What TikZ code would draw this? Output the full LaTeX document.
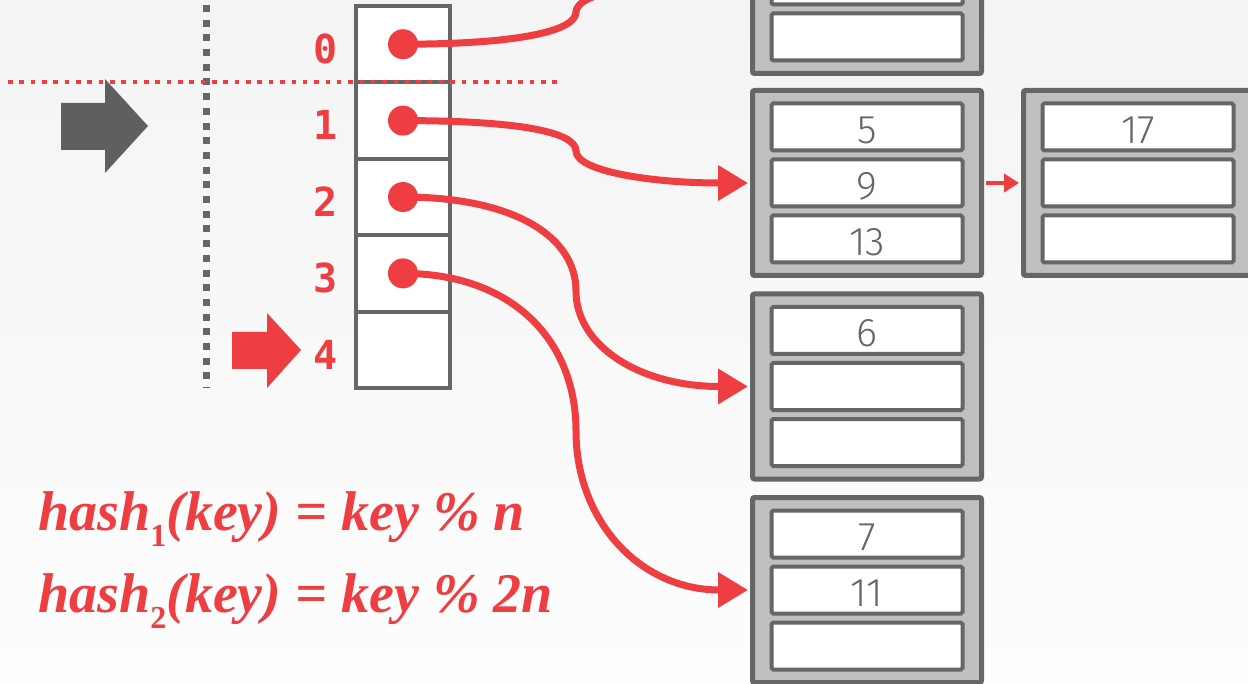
\documentclass[tikz,border=0pt]{standalone}
\usepackage{fontspec}
\usetikzlibrary{arrows.meta}
\newfontfamily\labfont{DejaVu Sans Mono}
\newfontfamily\slotfont{Fira Sans}[UprightFont=* Light]
\newfontfamily\formfont{Liberation Serif}
\definecolor{myred}{HTML}{EF3E42}
\definecolor{mygray}{HTML}{666666}
\definecolor{arrgray}{HTML}{5F5F5F}
\definecolor{bfill}{HTML}{BFBFBF}
\definecolor{bgtop}{HTML}{F4F4F4}
\definecolor{bgbot}{HTML}{FDFDFD}
\newcommand{\hsub}[1]{\raisebox{-8pt}{\upshape\fontsize{16}{16}\selectfont #1}}
\begin{document}
\begin{tikzpicture}[x=0.5pt,y=-0.5pt,
  bucket/.style={draw=mygray, fill=bfill, line width=2.5pt, minimum width=114.5pt, minimum height=92.5pt, rounded corners=1pt, inner sep=0pt},
  slot/.style={draw=mygray, fill=white, line width=2pt, minimum width=95.5pt, minimum height=23.5pt, inner sep=0pt, rounded corners=0.8pt},
  slottext/.style={text=mygray, font=\slotfont\fontsize{20}{20}\selectfont, yshift=-1.6pt},
  cell/.style={draw=mygray, fill=white, line width=2pt, minimum width=47pt, minimum height=38.2pt, inner sep=0pt},
  dotnode/.style={circle, fill=myred, minimum size=15pt, inner sep=0pt},
  idx/.style={text=myred, font=\labfont\bfseries\fontsize{20}{20}\selectfont, inner sep=0pt},
  link/.style={draw=myred, line width=3.5pt, shorten >=1pt, -{Triangle[length=15pt,width=17pt]}},
  smalllink/.style={draw=myred, line width=2.3pt, shorten <=1.2pt, shorten >=1pt, -{Triangle[length=7.5pt,width=9pt]}},
  formula/.style={text=myred, font=\formfont\bfseries\itshape\fontsize{28}{28}\selectfont, inner sep=0pt, anchor=base west}
]
\useasboundingbox (0,0) rectangle (1248,684);
\shade[top color=bgtop, bottom color=bgbot] (0,0) rectangle (1248,684);
\clip (0,0) rectangle (1248,684);

% buckets
\node[bucket] (bA) at (867,-19) {};
\node[bucket] (bB) at (867,183) {};
\node[bucket] (bC) at (867,386.5) {};
\node[bucket] (bD) at (867,590) {};
\node[bucket] (bE) at (1138,183) {};
\foreach \b in {A,B,C,D,E} {
  \node[slot] (s\b1) at ([yshift=28pt]b\b.center) {};
  \node[slot] (s\b2) at (b\b.center) {};
  \node[slot] (s\b3) at ([yshift=-28pt]b\b.center) {};
}
\node[slottext] (t5) at (sB1) {5};
\node[slottext] (t9) at (sB2) {9};
\node[slottext] (t13) at (sB3) {13};
\node[slottext] (t6) at (sC1) {6};
\node[slottext] (t7) at (sD1) {7};
\node[slottext] (t11) at (sD2) {11};
\node[slottext] (t17) at (sE1) {17};

% directory
\foreach \i in {0,...,4} {
  \node[cell] (c\i) at (403,{44.2+76.4*\i}) {};
  \node[idx] (l\i) at (326,{49+76.4*\i}) {\i};
}
\foreach \i in {0,...,3} {
  \node[dotnode] (d\i) at (c\i.center) {};
}

% guide lines
\coordinate (gv1) at (206,5);
\coordinate (gv2) at (206,388);
\draw[mygray, line width=3.5pt, dash pattern=on 3.5pt off 3.85pt] (gv1) -- (gv2);
\coordinate (rh1) at (8,82);
\coordinate (rh2) at (560,82);
\draw[myred, line width=2pt, dash pattern=on 2.3pt off 3.37pt] (rh1) -- (rh2);

% block arrows
\fill[arrgray] (61,103) -- (105,103) -- (105,79) -- (148,126) -- (105,173) -- (105,150) -- (61,150) -- cycle;
\fill[myred] (232,332) -- (267,332) -- (267,313) -- (301,350) -- (267,388) -- (267,369) -- (232,369) -- cycle;

% links
\coordinate (m0) at (576,12);
\coordinate (m1) at (576,151);
\coordinate (m2) at (576,291);
\coordinate (m3) at (576,431);
\draw[link] (d0.center) .. controls +(110,0) and +(0,20) .. (m0) .. controls +(0,-20) and +(-100,0) .. (bA.west);
\draw[link] (d1.center) .. controls +(110,0) and +(0,-20) .. (m1) .. controls +(0,20) and +(-100,0) .. (bB.west);
\draw[link] (d2.center) .. controls +(110,0) and +(0,-55) .. (m2) .. controls +(0,55) and +(-110,0) .. (bC.west);
\draw[link] (d3.center) .. controls +(110,0) and +(0,-90) .. (m3) .. controls +(0,90) and +(-110,0) .. (bD.west);
\draw[smalllink] (bB.east) -- (bE.west);

% formulas
\node[formula] (f1) at (38,530) {hash\hsub{1}(key) = key \% n};
\node[formula] (f2) at (38,612) {hash\hsub{2}(key) = key \% 2n};
\end{tikzpicture}
\end{document}
